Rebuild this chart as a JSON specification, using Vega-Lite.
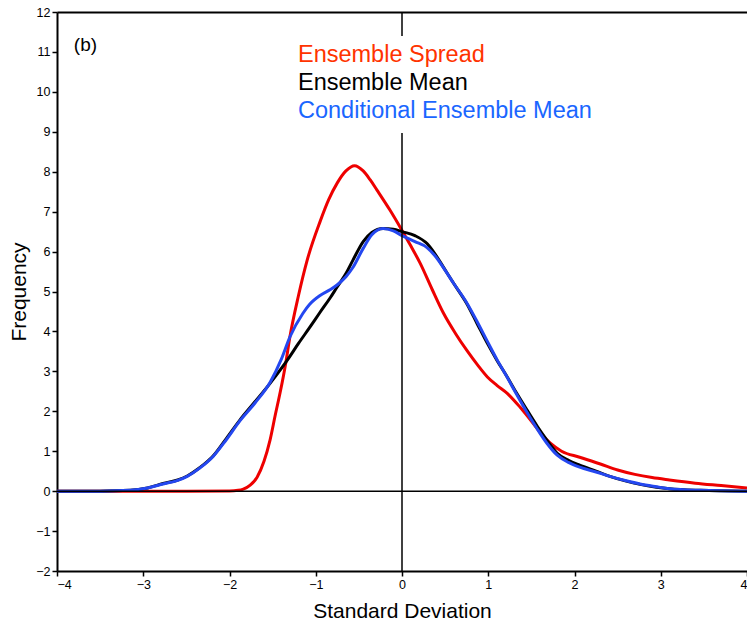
{
  "$schema": "https://vega.github.io/schema/vega-lite/v6.json",
  "width": 690,
  "height": 559,
  "autosize": {"type": "none"},
  "padding": {"left": 57, "top": 12, "right": 0, "bottom": 52},
  "background": "white",
  "config": {
    "view": {"stroke": null},
    "font": "Liberation Sans",
    "axis": {"grid": false, "domainColor": "black", "domainWidth": 2, "tickColor": "black", "tickWidth": 1.5, "tickSize": 5, "labelColor": "black", "labelFontSize": 12.5, "labelPadding": 2, "titleColor": "black", "titleFontWeight": "normal", "titleFontSize": 21}
  },
  "datasets": {
    "curves": [
      {"series": "Ensemble Spread", "x": -4, "y": 0},
      {"series": "Ensemble Spread", "x": -2.5, "y": 0},
      {"series": "Ensemble Spread", "x": -2.0, "y": 0.005},
      {"series": "Ensemble Spread", "x": -1.9, "y": 0.02},
      {"series": "Ensemble Spread", "x": -1.84, "y": 0.05},
      {"series": "Ensemble Spread", "x": -1.76, "y": 0.15},
      {"series": "Ensemble Spread", "x": -1.68, "y": 0.35},
      {"series": "Ensemble Spread", "x": -1.6, "y": 0.75},
      {"series": "Ensemble Spread", "x": -1.53, "y": 1.28},
      {"series": "Ensemble Spread", "x": -1.47, "y": 1.9},
      {"series": "Ensemble Spread", "x": -1.41, "y": 2.5},
      {"series": "Ensemble Spread", "x": -1.35, "y": 3.18},
      {"series": "Ensemble Spread", "x": -1.3, "y": 3.86},
      {"series": "Ensemble Spread", "x": -1.2, "y": 4.9},
      {"series": "Ensemble Spread", "x": -1.1, "y": 5.78},
      {"series": "Ensemble Spread", "x": -0.95, "y": 6.75},
      {"series": "Ensemble Spread", "x": -0.85, "y": 7.3},
      {"series": "Ensemble Spread", "x": -0.75, "y": 7.72},
      {"series": "Ensemble Spread", "x": -0.65, "y": 8.02},
      {"series": "Ensemble Spread", "x": -0.55, "y": 8.15},
      {"series": "Ensemble Spread", "x": -0.45, "y": 8.02},
      {"series": "Ensemble Spread", "x": -0.37, "y": 7.8},
      {"series": "Ensemble Spread", "x": -0.29, "y": 7.54},
      {"series": "Ensemble Spread", "x": -0.14, "y": 7.04},
      {"series": "Ensemble Spread", "x": 0, "y": 6.53},
      {"series": "Ensemble Spread", "x": 0.1, "y": 6.15},
      {"series": "Ensemble Spread", "x": 0.21, "y": 5.71},
      {"series": "Ensemble Spread", "x": 0.35, "y": 5.05},
      {"series": "Ensemble Spread", "x": 0.48, "y": 4.46},
      {"series": "Ensemble Spread", "x": 0.62, "y": 3.95},
      {"series": "Ensemble Spread", "x": 0.75, "y": 3.53},
      {"series": "Ensemble Spread", "x": 0.88, "y": 3.15},
      {"series": "Ensemble Spread", "x": 0.99, "y": 2.86},
      {"series": "Ensemble Spread", "x": 1.1, "y": 2.65},
      {"series": "Ensemble Spread", "x": 1.22, "y": 2.45},
      {"series": "Ensemble Spread", "x": 1.37, "y": 2.1},
      {"series": "Ensemble Spread", "x": 1.52, "y": 1.7},
      {"series": "Ensemble Spread", "x": 1.62, "y": 1.42},
      {"series": "Ensemble Spread", "x": 1.72, "y": 1.2},
      {"series": "Ensemble Spread", "x": 1.85, "y": 1.0},
      {"series": "Ensemble Spread", "x": 2.06, "y": 0.85},
      {"series": "Ensemble Spread", "x": 2.3, "y": 0.68},
      {"series": "Ensemble Spread", "x": 2.5, "y": 0.53},
      {"series": "Ensemble Spread", "x": 2.7, "y": 0.42},
      {"series": "Ensemble Spread", "x": 2.9, "y": 0.34},
      {"series": "Ensemble Spread", "x": 3.1, "y": 0.28},
      {"series": "Ensemble Spread", "x": 3.4, "y": 0.2},
      {"series": "Ensemble Spread", "x": 3.7, "y": 0.14},
      {"series": "Ensemble Spread", "x": 4.0, "y": 0.08},

      {"series": "Ensemble Mean", "x": -4, "y": 0},
      {"series": "Ensemble Mean", "x": -3.5, "y": 0},
      {"series": "Ensemble Mean", "x": -3.15, "y": 0.02},
      {"series": "Ensemble Mean", "x": -2.95, "y": 0.08},
      {"series": "Ensemble Mean", "x": -2.77, "y": 0.19},
      {"series": "Ensemble Mean", "x": -2.6, "y": 0.28},
      {"series": "Ensemble Mean", "x": -2.49, "y": 0.38},
      {"series": "Ensemble Mean", "x": -2.35, "y": 0.58},
      {"series": "Ensemble Mean", "x": -2.19, "y": 0.88},
      {"series": "Ensemble Mean", "x": -2.05, "y": 1.28},
      {"series": "Ensemble Mean", "x": -1.88, "y": 1.78},
      {"series": "Ensemble Mean", "x": -1.7, "y": 2.25},
      {"series": "Ensemble Mean", "x": -1.53, "y": 2.7},
      {"series": "Ensemble Mean", "x": -1.33, "y": 3.28},
      {"series": "Ensemble Mean", "x": -1.2, "y": 3.7},
      {"series": "Ensemble Mean", "x": -1.07, "y": 4.1},
      {"series": "Ensemble Mean", "x": -0.95, "y": 4.48},
      {"series": "Ensemble Mean", "x": -0.83, "y": 4.85},
      {"series": "Ensemble Mean", "x": -0.75, "y": 5.12},
      {"series": "Ensemble Mean", "x": -0.65, "y": 5.45},
      {"series": "Ensemble Mean", "x": -0.57, "y": 5.78},
      {"series": "Ensemble Mean", "x": -0.45, "y": 6.25},
      {"series": "Ensemble Mean", "x": -0.35, "y": 6.48},
      {"series": "Ensemble Mean", "x": -0.22, "y": 6.58},
      {"series": "Ensemble Mean", "x": -0.1, "y": 6.56},
      {"series": "Ensemble Mean", "x": 0, "y": 6.5},
      {"series": "Ensemble Mean", "x": 0.15, "y": 6.4},
      {"series": "Ensemble Mean", "x": 0.29, "y": 6.2},
      {"series": "Ensemble Mean", "x": 0.38, "y": 5.95},
      {"series": "Ensemble Mean", "x": 0.48, "y": 5.61},
      {"series": "Ensemble Mean", "x": 0.6, "y": 5.2},
      {"series": "Ensemble Mean", "x": 0.75, "y": 4.7},
      {"series": "Ensemble Mean", "x": 0.87, "y": 4.2},
      {"series": "Ensemble Mean", "x": 0.99, "y": 3.7},
      {"series": "Ensemble Mean", "x": 1.1, "y": 3.28},
      {"series": "Ensemble Mean", "x": 1.22, "y": 2.86},
      {"series": "Ensemble Mean", "x": 1.33, "y": 2.45},
      {"series": "Ensemble Mean", "x": 1.45, "y": 2.03},
      {"series": "Ensemble Mean", "x": 1.57, "y": 1.62},
      {"series": "Ensemble Mean", "x": 1.68, "y": 1.28},
      {"series": "Ensemble Mean", "x": 1.8, "y": 0.95},
      {"series": "Ensemble Mean", "x": 1.93, "y": 0.77},
      {"series": "Ensemble Mean", "x": 2.06, "y": 0.65},
      {"series": "Ensemble Mean", "x": 2.25, "y": 0.5},
      {"series": "Ensemble Mean", "x": 2.41, "y": 0.37},
      {"series": "Ensemble Mean", "x": 2.6, "y": 0.25},
      {"series": "Ensemble Mean", "x": 2.76, "y": 0.17},
      {"series": "Ensemble Mean", "x": 2.95, "y": 0.1},
      {"series": "Ensemble Mean", "x": 3.1, "y": 0.06},
      {"series": "Ensemble Mean", "x": 3.46, "y": 0.02},
      {"series": "Ensemble Mean", "x": 4, "y": 0},

      {"series": "Conditional Ensemble Mean", "x": -4, "y": 0},
      {"series": "Conditional Ensemble Mean", "x": -3.5, "y": 0},
      {"series": "Conditional Ensemble Mean", "x": -3.15, "y": 0.02},
      {"series": "Conditional Ensemble Mean", "x": -2.95, "y": 0.08},
      {"series": "Conditional Ensemble Mean", "x": -2.77, "y": 0.18},
      {"series": "Conditional Ensemble Mean", "x": -2.6, "y": 0.27},
      {"series": "Conditional Ensemble Mean", "x": -2.49, "y": 0.37},
      {"series": "Conditional Ensemble Mean", "x": -2.35, "y": 0.57},
      {"series": "Conditional Ensemble Mean", "x": -2.19, "y": 0.87},
      {"series": "Conditional Ensemble Mean", "x": -2.05, "y": 1.25},
      {"series": "Conditional Ensemble Mean", "x": -1.88, "y": 1.76},
      {"series": "Conditional Ensemble Mean", "x": -1.7, "y": 2.22},
      {"series": "Conditional Ensemble Mean", "x": -1.53, "y": 2.72},
      {"series": "Conditional Ensemble Mean", "x": -1.4, "y": 3.3},
      {"series": "Conditional Ensemble Mean", "x": -1.3, "y": 3.86},
      {"series": "Conditional Ensemble Mean", "x": -1.15, "y": 4.45},
      {"series": "Conditional Ensemble Mean", "x": -1.07, "y": 4.68},
      {"series": "Conditional Ensemble Mean", "x": -0.95, "y": 4.9},
      {"series": "Conditional Ensemble Mean", "x": -0.83, "y": 5.05},
      {"series": "Conditional Ensemble Mean", "x": -0.75, "y": 5.17},
      {"series": "Conditional Ensemble Mean", "x": -0.65, "y": 5.37},
      {"series": "Conditional Ensemble Mean", "x": -0.57, "y": 5.6},
      {"series": "Conditional Ensemble Mean", "x": -0.45, "y": 6.08},
      {"series": "Conditional Ensemble Mean", "x": -0.35, "y": 6.42},
      {"series": "Conditional Ensemble Mean", "x": -0.22, "y": 6.58},
      {"series": "Conditional Ensemble Mean", "x": -0.1, "y": 6.52},
      {"series": "Conditional Ensemble Mean", "x": 0, "y": 6.4},
      {"series": "Conditional Ensemble Mean", "x": 0.15, "y": 6.25},
      {"series": "Conditional Ensemble Mean", "x": 0.29, "y": 6.1},
      {"series": "Conditional Ensemble Mean", "x": 0.38, "y": 5.9},
      {"series": "Conditional Ensemble Mean", "x": 0.48, "y": 5.6},
      {"series": "Conditional Ensemble Mean", "x": 0.6, "y": 5.2},
      {"series": "Conditional Ensemble Mean", "x": 0.75, "y": 4.72},
      {"series": "Conditional Ensemble Mean", "x": 0.87, "y": 4.25},
      {"series": "Conditional Ensemble Mean", "x": 0.99, "y": 3.75},
      {"series": "Conditional Ensemble Mean", "x": 1.1, "y": 3.3},
      {"series": "Conditional Ensemble Mean", "x": 1.22, "y": 2.85},
      {"series": "Conditional Ensemble Mean", "x": 1.33, "y": 2.42},
      {"series": "Conditional Ensemble Mean", "x": 1.45, "y": 1.97},
      {"series": "Conditional Ensemble Mean", "x": 1.57, "y": 1.55},
      {"series": "Conditional Ensemble Mean", "x": 1.68, "y": 1.2},
      {"series": "Conditional Ensemble Mean", "x": 1.8, "y": 0.9},
      {"series": "Conditional Ensemble Mean", "x": 1.93, "y": 0.72},
      {"series": "Conditional Ensemble Mean", "x": 2.06, "y": 0.6},
      {"series": "Conditional Ensemble Mean", "x": 2.25, "y": 0.48},
      {"series": "Conditional Ensemble Mean", "x": 2.41, "y": 0.37},
      {"series": "Conditional Ensemble Mean", "x": 2.6, "y": 0.26},
      {"series": "Conditional Ensemble Mean", "x": 2.76, "y": 0.18},
      {"series": "Conditional Ensemble Mean", "x": 2.95, "y": 0.11},
      {"series": "Conditional Ensemble Mean", "x": 3.1, "y": 0.06},
      {"series": "Conditional Ensemble Mean", "x": 3.46, "y": 0.02},
      {"series": "Conditional Ensemble Mean", "x": 4, "y": 0}
    ],
    "refs": [{"v": 0}],
    "vsegments": [{"x": 0, "y1": 12, "y2": 11.4}, {"x": 0, "y1": 8.97, "y2": -2}]
  },
  "layer": [
    {
      "data": {"name": "curves"},
      "mark": {"type": "line", "strokeWidth": 3, "interpolate": "monotone", "clip": true},
      "encoding": {
        "x": {"field": "x", "type": "quantitative", "scale": {"domain": [-4, 4], "nice": false},
              "axis": {"values": [-4, -3, -2, -1, 0, 1, 2, 3, 4], "title": "Standard Deviation", "titlePadding": 10}},
        "y": {"field": "y", "type": "quantitative", "scale": {"domain": [-2, 12], "nice": false},
              "axis": {"values": [-2, -1, 0, 1, 2, 3, 4, 5, 6, 7, 8, 9, 10, 11, 12], "title": "Frequency", "titlePadding": 6}},
        "color": {"field": "series", "type": "nominal",
                  "scale": {"domain": ["Ensemble Spread", "Ensemble Mean", "Conditional Ensemble Mean"], "range": ["#ee0000", "#000000", "#2447f0"]},
                  "legend": null},
        "order": {"field": "x", "type": "quantitative"},
        "detail": {"field": "series"}
      }
    },
    {
      "data": {"name": "refs"},
      "mark": {"type": "rule", "color": "black", "strokeWidth": 1.5},
      "encoding": {
        "y": {"field": "v", "type": "quantitative", "axis": null}
      }
    },
    {
      "data": {"name": "vsegments"},
      "mark": {"type": "rule", "color": "black", "strokeWidth": 1.5},
      "encoding": {
        "x": {"field": "x", "type": "quantitative", "axis": null},
        "y": {"field": "y1", "type": "quantitative", "axis": null},
        "y2": {"field": "y2"}
      }
    },
    {
      "data": {"values": [{"label": "(b)"}]},
      "mark": {"type": "text", "fontSize": 19, "align": "center", "baseline": "middle", "color": "black"},
      "encoding": {"text": {"field": "label"}, "x": {"datum": -3.67, "axis": null}, "y": {"datum": 11.17, "axis": null}}
    },
    {
      "data": {"values": [{"label": "Ensemble Spread"}]},
      "mark": {"type": "text", "fontSize": 23.5, "align": "left", "baseline": "middle", "color": "#ff3300"},
      "encoding": {"text": {"field": "label"}, "x": {"datum": -1.206, "axis": null}, "y": {"datum": 10.92, "axis": null}}
    },
    {
      "data": {"values": [{"label": "Ensemble Mean"}]},
      "mark": {"type": "text", "fontSize": 23.5, "align": "left", "baseline": "middle", "color": "#000000"},
      "encoding": {"text": {"field": "label"}, "x": {"datum": -1.206, "axis": null}, "y": {"datum": 10.22, "axis": null}}
    },
    {
      "data": {"values": [{"label": "Conditional Ensemble Mean"}]},
      "mark": {"type": "text", "fontSize": 23.5, "align": "left", "baseline": "middle", "color": "#1a66ff"},
      "encoding": {"text": {"field": "label"}, "x": {"datum": -1.206, "axis": null}, "y": {"datum": 9.52, "axis": null}}
    },
    {
      "data": {"name": "refs"},
      "mark": {"type": "rule", "opacity": 0},
      "encoding": {
        "x": {"field": "v", "type": "quantitative", "axis": {"orient": "top", "labels": false, "ticks": false, "title": null, "domainWidth": 2}}
      }
    }
  ],
  "resolve": {"axis": {"x": "independent", "y": "independent"}}
}
